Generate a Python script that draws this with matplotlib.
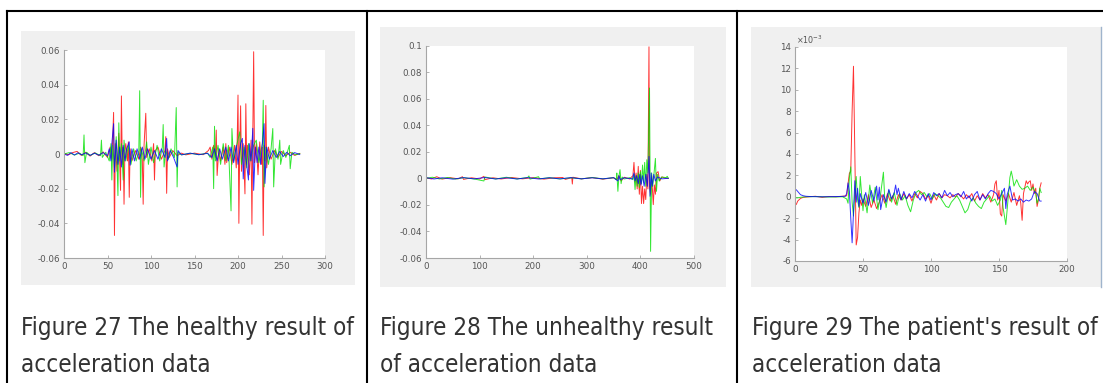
import numpy as np
import matplotlib
matplotlib.use("Agg")
import matplotlib.pyplot as plt
from matplotlib.patches import Rectangle
from matplotlib.lines import Line2D

W, H = 1103, 383

# ---- Figure 27: healthy (x = sample, y = acceleration) ----
h_red_x = [0, 5, 10, 15, 20, 25, 30, 35, 40, 45, 50, 53, 55, 56, 57, 58, 59, 61, 63, 65, 66, 67, 68, 69,
           70, 71, 73, 74, 75, 76, 78, 82, 86, 88, 90, 91, 92, 94, 95, 98, 101, 103, 104, 105, 108, 112,
           116, 117, 118, 119, 121, 125, 130, 135, 140, 150, 160, 166, 168, 170, 172, 174, 175, 176, 178,
           180, 183, 185, 186, 187, 190, 193, 196, 198, 199, 200, 201, 202, 203, 204, 206, 208, 209, 210,
           211, 213, 215, 216, 217, 218, 219, 221, 223, 225, 227, 228, 229, 230, 231, 232, 233, 235, 238,
           242, 246, 250, 255, 260, 265, 271]
h_red_y = [0.0005, -0.0005, 0.0008, 0.0015, -0.0008, 0.001, -0.0012, 0.0008, -0.001, 0.0012, -0.002,
           0.004, -0.003, 0.009, 0.024, -0.047, 0.006, -0.01, 0.012, -0.021, 0.0335, -0.006, 0.004, -0.029,
           0.002, 0.006, -0.004, 0.007, -0.025, 0.003, -0.004, 0.002, -0.003, 0.004, -0.003, -0.029, 0.005,
           0.0235, -0.002, 0.003, -0.004, 0.006, -0.015, 0.002, 0.004, -0.003, 0.002, 0.01, -0.0227, 0.003,
           -0.002, 0.002, -0.001, 0.0005, -0.0005, 0.0005, -0.0004, 0.002, 0.004, -0.003, 0.005, -0.002,
           0.0138, -0.0124, 0.003, -0.004, 0.004, -0.006, 0.006, -0.005, 0.004, -0.006, 0.005, -0.008, 0.006,
           0.034, -0.040, 0.004, 0.0278, -0.01, 0.006, -0.023, 0.029, -0.006, 0.005, -0.012, 0.008, -0.0405,
           0.01, 0.059, -0.005, 0.006, -0.012, 0.007, -0.006, 0.004, -0.047, 0.005, -0.004, 0.028, -0.008,
           0.004, -0.003, 0.002, -0.002, 0.0015, -0.001, 0.001, -0.0008, 0.0003]
h_green_x = [0, 6, 12, 18, 22, 23, 24, 26, 30, 36, 42, 43, 44, 48, 52, 54, 55, 56, 58, 60, 62, 63, 64, 66,
             68, 69, 71, 74, 77, 80, 83, 86, 87, 88, 89, 92, 95, 97, 100, 103, 107, 110, 113, 114, 115, 117,
             120, 123, 127, 129, 130, 131, 135, 145, 155, 165, 168, 171, 172, 173, 174, 177, 180, 183, 186,
             189, 192, 193, 195, 198, 202, 204, 207, 210, 212, 214, 218, 221, 224, 228, 229, 230, 232, 235,
             238, 240, 241, 243, 246, 248, 249, 252, 255, 259, 260, 262, 266, 271]
h_green_y = [0, 0.0008, -0.0006, 0.0005, -0.001, 0.011, -0.005, 0.001, -0.0008, 0.0006, -0.001, 0.008,
             -0.002, 0.001, -0.004, 0.006, -0.015, 0.005, -0.008, 0.01, -0.024, 0.018, -0.004, 0.006, -0.015,
             0.008, -0.004, 0.005, -0.006, 0.003, -0.004, 0.002, 0.0365, -0.025, 0.003, -0.004, 0.007, -0.006,
             0.004, -0.005, 0.005, -0.004, 0.004, 0.017, -0.0075, 0.002, -0.003, 0.003, -0.002, 0.0268,
             -0.019, 0.001, -0.0005, 0.0004, -0.0004, 0.0005, -0.002, 0.004, -0.02, 0.016, -0.004, 0.005,
             -0.006, 0.006, -0.004, 0.005, -0.0328, 0.0147, -0.004, 0.004, 0.0128, -0.006, 0.004, -0.008,
             0.006, -0.004, 0.005, 0.008, -0.005, 0.006, 0.031, -0.019, 0.004, -0.006, 0.003, 0.0147, -0.019,
             0.003, -0.003, 0.008, -0.006, 0.002, -0.002, 0.005, -0.0085, 0.001, -0.0005, 0.0003]
h_blue_x = [0, 4, 8, 12, 16, 20, 25, 30, 35, 40, 45, 50, 52, 54, 55, 57, 58, 60, 62, 64, 66, 68, 70, 72,
            75, 76, 78, 81, 84, 87, 90, 93, 96, 100, 104, 108, 112, 116, 118, 119, 122, 126, 130, 131, 135,
            145, 155, 165, 170, 173, 176, 179, 182, 186, 189, 192, 195, 198, 200, 203, 205, 206, 208, 210,
            212, 213, 215, 217, 218, 220, 222, 224, 226, 228, 230, 231, 233, 236, 240, 244, 248, 252, 256,
            260, 265, 271]
h_blue_y = [0, -0.0008, 0.0008, -0.0006, 0.0007, -0.0005, 0.0006, -0.0008, 0.0005, -0.0007, 0.0008, -0.001,
            0.003, -0.004, 0.006, 0.0175, -0.0105, 0.008, -0.006, 0.004, -0.0075, 0.005, -0.004, 0.003, 0.007,
            -0.0065, 0.003, -0.004, 0.003, -0.003, 0.004, -0.003, 0.003, -0.003, 0.002, -0.003, 0.003, -0.002,
            0.009, -0.004, 0.002, -0.002, -0.0075, 0.002, -0.0005, 0.0005, -0.0004, 0.0004, -0.002, 0.003,
            -0.004, 0.003, -0.003, 0.004, -0.004, 0.004, -0.005, 0.005, -0.006, 0.006, 0.009, -0.0144, 0.005,
            -0.006, -0.015, 0.006, -0.004, 0.0148, -0.021, 0.004, -0.005, 0.004, -0.006, 0.006, 0.0175, -0.017,
            0.004, -0.003, 0.002, -0.002, 0.0015, -0.0015, 0.001, -0.001, 0.0008, -0.0003]

# ---- Figure 28: unhealthy ----
u_red_x = [0, 10, 20, 30, 45, 60, 68, 70, 85, 100, 108, 110, 125, 140, 160, 180, 200, 220, 240, 255, 260,
           272, 273, 274, 290, 310, 330, 350, 356, 360, 364, 370, 380, 386, 388, 390, 392, 394, 396, 398,
           400, 402, 404, 406, 408, 410, 412, 414, 416, 417, 419, 421, 424, 426, 428, 430, 433, 436, 440,
           445, 452]
u_red_y = [0.0005, -0.0005, 0.0012, -0.0006, 0.0005, -0.0004, 0.0012, -0.0008, 0.0004, -0.0005, 0.0015,
           -0.001, 0.0004, -0.0005, 0.0006, -0.0004, 0.0005, -0.0006, 0.0004, 0.0006, -0.0008, 0.0005, -0.0043,
           0.0008, -0.0004, 0.0005, -0.0006, 0.0004, -0.001, 0.002, -0.002, 0.0008, -0.0005, 0.002, 0.012,
           -0.003, 0.004, -0.008, 0.009, -0.012, 0.006, -0.019, -0.006, -0.019, -0.008, -0.016, 0.003, -0.008,
           0.099, -0.006, -0.012, 0.002, -0.0198, -0.005, -0.012, 0.004, 0.005, -0.002, 0.001, 0.0003, 0]
u_green_x = [0, 12, 25, 40, 55, 70, 90, 108, 110, 130, 150, 170, 190, 192, 194, 210, 212, 230, 250, 270,
             290, 310, 330, 350, 355, 356, 358, 360, 362, 364, 366, 370, 380, 386, 388, 390, 392, 394, 396,
             398, 400, 402, 404, 406, 408, 410, 412, 414, 417, 419, 421, 423, 425, 428, 430, 432, 435, 440,
             448, 450, 452]
u_green_y = [0, 0.0008, -0.0005, 0.0006, -0.0006, 0.0005, -0.0005, -0.002, 0.001, -0.0005, 0.0008, -0.0005,
             0.0007, 0.0018, -0.0006, 0.0012, -0.0004, 0.0005, -0.0005, 0.0004, -0.0004, 0.0006, -0.0004,
             0.0005, -0.001, 0.004, -0.0098, 0.002, 0.0065, -0.004, 0.001, -0.0005, 0.0005, -0.001, 0.003,
             -0.0085, 0.002, -0.006, 0.004, -0.007, 0.005, -0.004, 0.01, -0.003, 0.012, -0.006, 0.014, 0.004,
             0.068, -0.055, 0.004, -0.006, 0.002, 0.015, -0.0098, 0.003, -0.002, 0.001, 0.0005, 0.0015, 0]
u_blue_x = [0, 15, 30, 50, 70, 90, 110, 130, 150, 170, 190, 210, 230, 250, 270, 290, 310, 330, 350, 358,
            360, 362, 370, 385, 388, 390, 393, 396, 399, 401, 404, 407, 410, 413, 416, 418, 420, 422, 425,
            428, 432, 440, 452]
u_blue_y = [0.0005, -0.0005, 0.0004, -0.0006, 0.0005, -0.0004, 0.0006, -0.0005, 0.0004, -0.0005, 0.0005,
            -0.0005, 0.0004, -0.0004, 0.0005, -0.0004, 0.0004, -0.0004, 0.0005, -0.002, 0.002, -0.001, 0.0004,
            -0.0005, 0.004, -0.002, 0.002, -0.004, 0.003, -0.005, 0.002, -0.006, 0.003, -0.006, 0.0165,
            -0.0135, 0.004, -0.006, 0.003, -0.002, 0.001, -0.0004, 0]

# ---- Figure 29: patient (y in units of 1e-3) ----
p_red_x = [0, 1, 2, 4, 6, 10, 15, 20, 25, 30, 35, 38, 39, 40, 41, 42, 43, 44, 45, 46, 47, 48, 49, 50, 52,
           54, 56, 58, 60, 62, 64, 66, 68, 70, 72, 74, 76, 78, 80, 82, 84, 86, 88, 90, 92, 94, 96, 98, 100,
           102, 104, 106, 108, 110, 112, 114, 116, 118, 120, 122, 124, 126, 128, 130, 132, 134, 136, 138,
           140, 142, 144, 146, 147, 148, 149, 150, 151, 152, 153, 155, 157, 159, 161, 163, 165, 166, 167,
           168, 170, 171, 172, 173, 174, 175, 176, 177, 178, 179, 180, 181]
p_red_y = [-0.8, -0.7, -0.4, -0.15, -0.05, 0, 0.05, -0.05, 0.03, 0, 0.05, 0.1, 1.2, 2.2, 2.4, 8, 12.2, 4,
           -4.5, -3.8, -1.5, -0.3, -0.8, -0.2, -0.9, 0.2, -1, -0.3, -1.1, -0.5, 0.2, -0.6, 0.3, -0.4, 0.1,
           -0.7, 0.2, -0.3, 0.3, -0.2, 0.2, -0.4, 0.3, -0.1, 0.5, 0.3, -0.2, 0.1, -0.6, 0.2, -0.3, 0.3, -0.1,
           0.2, 0.1, -0.1, 0.2, 0.0, 0.3, 0.1, -0.2, 0.2, -0.1, 0.3, -0.4, 0.1, -0.3, 0.3, -0.1, 0.2, -0.5,
           0.2, 1.2, 1.5, -0.3, 0.6, -1.6, -1.8, 0.2, -0.4, 0.3, -0.5, 0.4, -0.8, 0.1, -0.6, -2.2, 0.3, 1.5,
           1.2, 1.4, 1.5, 0.6, 1.2, 0.3, 0.8, -0.9, -0.3, 0.8, 1.3]
p_green_x = [0, 2, 4, 8, 15, 25, 35, 38, 39, 40, 41, 42, 43, 44, 45, 46, 47, 48, 49, 50, 51, 53, 55, 57,
             59, 61, 63, 65, 66, 67, 69, 71, 73, 75, 77, 79, 81, 83, 85, 87, 89, 91, 93, 95, 97, 99, 101,
             103, 105, 107, 109, 111, 113, 115, 117, 119, 121, 123, 125, 127, 129, 131, 133, 135, 137, 139,
             141, 143, 145, 147, 149, 151, 152, 153, 154, 155, 156, 157, 158, 159, 160, 161, 163, 165, 167,
             169, 171, 173, 175, 177, 178, 179, 180, 181]
p_green_y = [-0.1, -0.1, -0.05, 0, 0.02, -0.02, 0.0, -0.2, -0.6, 1.8, 2.8, -0.5, -1.8, 0.5, 1.9, -0.3,
             -1.0, 1.9, 0.2, -1.3, 0.2, -1.5, 1.1, -0.6, 0.9, -1.2, 0.3, 2.3, -0.2, -1.0, 0.6, -0.5, 0.4,
             -0.8, 0.3, -0.3, 0.1, -0.8, -1.4, -0.3, 0.4, 0.6, 0.2, 0.4, 0.0, 0.3, -0.2, 0.3, 0.1, -0.1,
             -0.5, -0.9, -1.0, -0.5, -0.2, 0.1, -0.3, -0.9, -1.5, -1.2, -0.4, -0.1, -0.6, -0.9, -1.1, -0.5,
             -0.2, 0.1, -0.4, -0.2, -0.8, -0.3, 0.6, -1.0, -1.8, -2.6, -1.2, 0.3, 1.8, 2.4, 1.8, 1.0, 1.6,
             1.0, 0.7, 0.8, 1.0, 0.6, 0.9, 0.3, -0.6, -0.2, 0.8, 0.4]
p_blue_x = [0, 1, 2, 3, 4, 6, 8, 12, 20, 30, 37, 38, 39, 40, 41, 42, 43, 44, 45, 46, 47, 48, 50, 52, 54,
            56, 58, 60, 61, 62, 63, 65, 67, 69, 71, 73, 74, 75, 76, 78, 80, 82, 84, 86, 88, 90, 92, 94, 96,
            98, 100, 102, 104, 106, 108, 110, 112, 114, 116, 118, 120, 122, 124, 126, 128, 130, 132, 134,
            136, 138, 140, 142, 144, 146, 148, 150, 152, 154, 155, 156, 158, 160, 162, 164, 166, 168, 170,
            172, 174, 176, 178, 180, 181]
p_blue_y = [0.7, 0.65, 0.5, 0.35, 0.2, 0.1, 0.05, 0.02, 0.0, 0.02, 0.05, 0.3, 1.3, 0.5, -2, -4.3, -1.5,
            1.5, -0.5, 0.8, -0.9, 0.3, -0.6, 0.4, -0.8, 0.6, -0.4, 1.0, -0.3, 0.9, -1.2, 0.2, -0.5, 0.7,
            -0.2, 0.4, 1.1, 0.2, 0.8, -0.3, 0.5, -0.2, 0.3, -0.1, 0.5, 0.1, -0.3, 0.2, -0.4, 0.3, -0.3, 0.4,
            0.1, 0.3, -0.1, 0.6, 0.1, 0.4, 0.0, 0.2, 0.3, 0.0, 0.5, -0.2, 0.1, -0.4, 0.2, 0.5, -0.3, 0.2,
            -0.2, 0.3, 0.6, 0.5, 0.3, -0.2, 0.3, 0.8, -1.1, 0.2, 1.0, -0.3, -0.2, -0.4, -0.2, -0.5, -0.3,
            -0.4, -0.2, 0.5, 0.3, -0.4, -0.4]

captions = [["Figure 27 The healthy result of", "acceleration data"],
            ["Figure 28 The unhealthy result", "of acceleration data"],
            ["Figure 29 The patient's result of", "acceleration data"]]

h_xticks = [0, 50, 100, 150, 200, 250, 300]
h_yticks = [-0.06, -0.04, -0.02, 0, 0.02, 0.04, 0.06]
h_ylabels = ["-0.06", "-0.04", "-0.02", "0", "0.02", "0.04", "0.06"]
u_xticks = [0, 100, 200, 300, 400, 500]
u_yticks = [-0.06, -0.04, -0.02, 0, 0.02, 0.04, 0.06, 0.08, 0.1]
u_ylabels = ["-0.06", "-0.04", "-0.02", "0", "0.02", "0.04", "0.06", "0.08", "0.1"]
p_xticks = [0, 50, 100, 150, 200]
p_yticks = [-6, -4, -2, 0, 2, 4, 6, 8, 10, 12, 14]
p_ylabels = ["-6", "-4", "-2", "0", "2", "4", "6", "8", "10", "12", "14"]


def frac(l, t, r, b):
    return [l / W, 1 - b / H, (r - l) / W, (b - t) / H]


fig = plt.figure(figsize=(W / 100, H / 100), dpi=100)
fig.patch.set_facecolor("white")

# table rules
lc = "black"
fig.add_artist(Line2D([7 / W, 1], [1 - 10.5 / H] * 2, color=lc, lw=1.5, transform=fig.transFigure))
for xv in [7, 367.5, 737]:
    fig.add_artist(Line2D([xv / W] * 2, [0, 1 - 10.5 / H], color=lc, lw=1.5, transform=fig.transFigure))

# grey screenshot panels
for (l, t, r, b) in [(21, 31, 355, 285), (380, 27, 726, 287), (751, 27, 1101, 287)]:
    fig.add_artist(Rectangle((l / W, 1 - b / H), (r - l) / W, (b - t) / H, facecolor="#f0f0f0",
                             edgecolor="none", transform=fig.transFigure, zorder=0))
fig.add_artist(Line2D([1100.5 / W] * 2, [1 - 287 / H, 1 - 27 / H], color="#9fb4cc", lw=1,
                      transform=fig.transFigure))


def matlab_axes(rect, xlim, ylim, xticks, yticks, ylabels):
    ax = fig.add_axes(rect)
    ax.set_facecolor("white")
    ax.set_xlim(*xlim)
    ax.set_ylim(*ylim)
    ax.set_xticks(xticks)
    ax.set_xticklabels([str(v) for v in xticks])
    ax.set_yticks(yticks)
    ax.set_yticklabels(ylabels)
    for s in ["top", "right"]:
        ax.spines[s].set_visible(False)
    for s in ["left", "bottom"]:
        ax.spines[s].set_color("#a6a6a6")
        ax.spines[s].set_linewidth(0.8)
    ax.tick_params(direction="in", length=2.5, width=0.6, color="#a6a6a6",
                   labelsize=6.3, labelcolor="#555555", pad=3)
    return ax


def draw(ax, series):
    for xs, ys, c in series:
        ax.plot(xs, ys, color=c, lw=0.7, alpha=0.8)


ax1 = matlab_axes(frac(64, 50, 325, 258), (0, 300), (-0.06, 0.06), h_xticks, h_yticks, h_ylabels)
draw(ax1, [(h_red_x, h_red_y, "#ff0000"), (h_green_x, h_green_y, "#00e000"), (h_blue_x, h_blue_y, "#0000ff")])

ax2 = matlab_axes(frac(426, 45.5, 694, 258), (0, 500), (-0.06, 0.1), u_xticks, u_yticks, u_ylabels)
draw(ax2, [(u_red_x, u_red_y, "#ff0000"), (u_green_x, u_green_y, "#00e000"), (u_blue_x, u_blue_y, "#0000ff")])

ax3 = matlab_axes(frac(795, 47, 1067, 261), (0, 200), (-6, 14), p_xticks, p_yticks, p_ylabels)
draw(ax3, [(p_red_x, p_red_y, "#ff0000"), (p_green_x, p_green_y, "#00e000"), (p_blue_x, p_blue_y, "#0000ff")])
ax3.text(0.005, 1.005, r"$\times10^{-3}$", transform=ax3.transAxes, fontsize=5.8, color="#555555",
         ha="left", va="bottom")

# captions: condensed face, size fitted so the first line spans the cell like the reference
cap_kw = dict(family="DejaVu Sans", fontstretch="condensed", color="#333333", ha="left", va="baseline")
probe = fig.text(0, 0, captions[0][0], fontsize=18, **cap_kw)
renderer = fig.canvas.get_renderer()
w18 = probe.get_window_extent(renderer).width
probe.remove()
cap_size = 18 * 331 / w18

for x0, lines in zip([21, 380, 752], captions):
    for yb, txt in zip([335, 372], lines):
        fig.text(x0 / W, 1 - yb / H, txt, fontsize=cap_size, **cap_kw)

fig.savefig("out.png", dpi=100)
